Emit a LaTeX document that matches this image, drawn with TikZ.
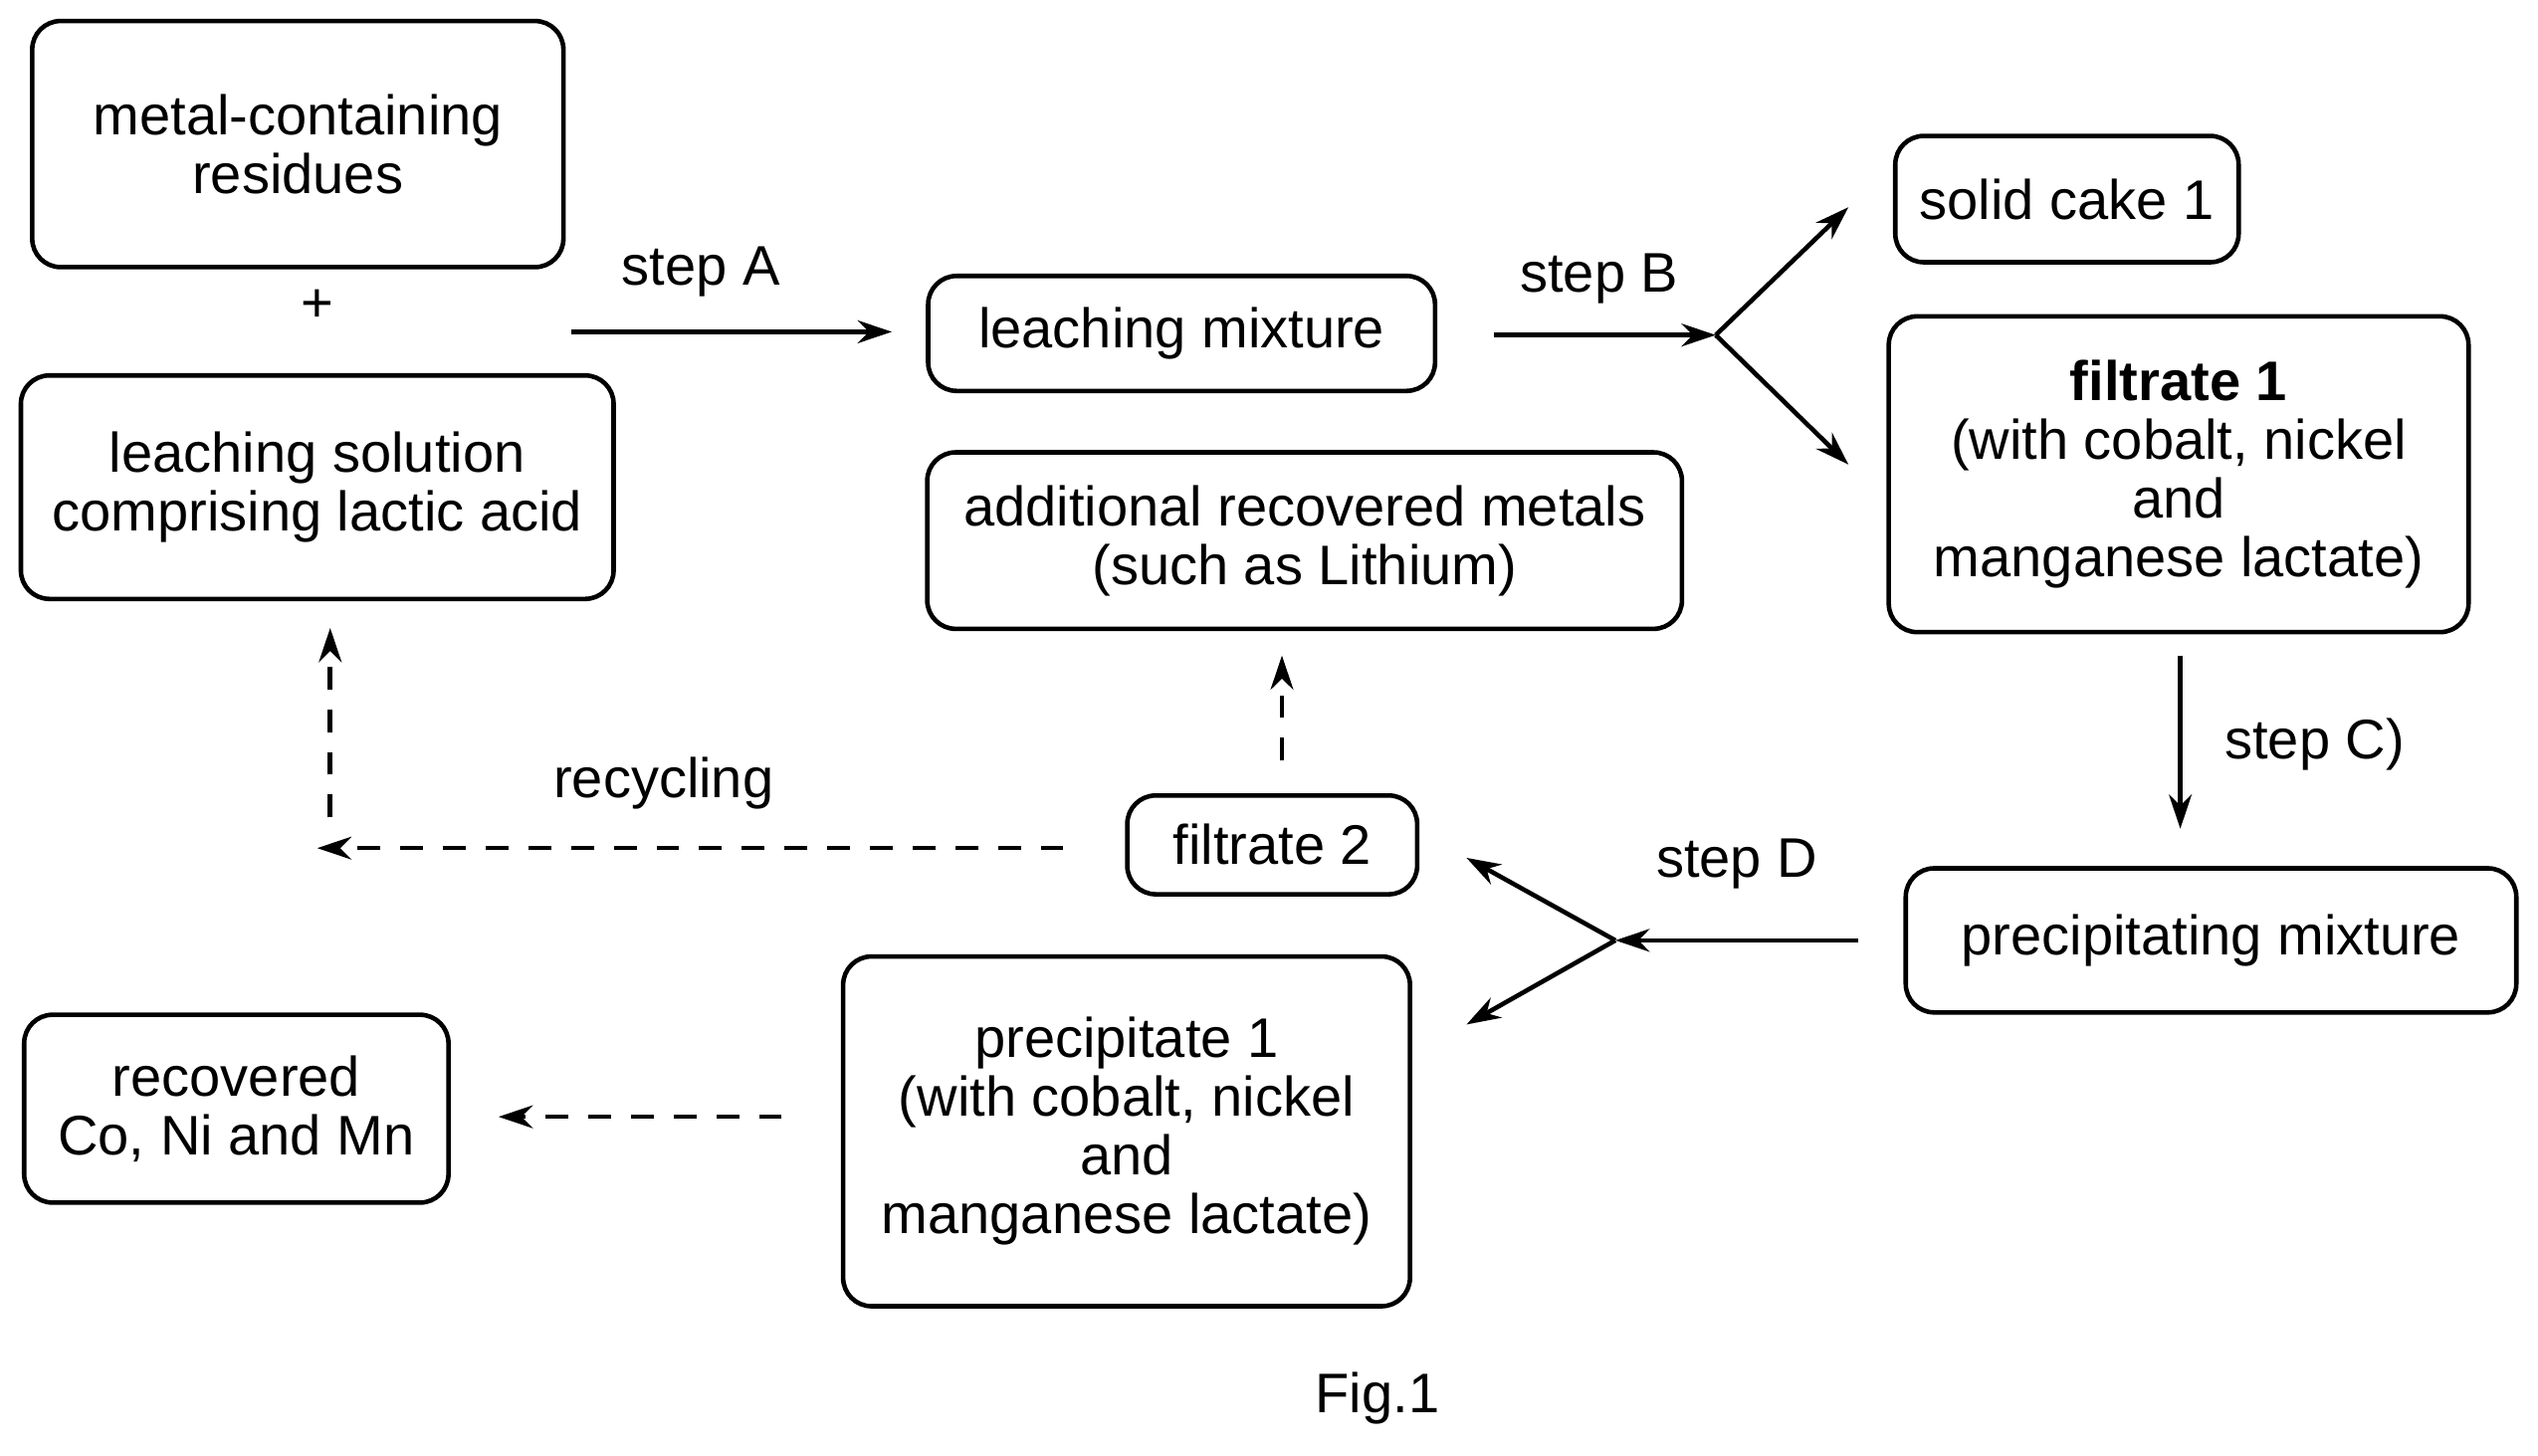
\documentclass[tikz,border=0pt]{standalone}
\usepackage{fontspec}
\setmainfont{Liberation Sans}
\usetikzlibrary{arrows.meta}
\tikzset{
  box/.style={draw, thick, rounded corners=5pt, align=center, inner sep=0pt},
  flow/.style={-{Stealth[length=6pt,width=4pt]}, thick},
  back/.style={-{Stealth[length=6pt,width=4pt]}, thick, dash pattern=on 4pt off 3.5pt},
}
\begin{document}
\begin{tikzpicture}[x=0.01cm, y=-0.01cm, font=\fontsize{9.8}{10.3}\selectfont]
        \useasboundingbox (0,0) rectangle (1568,899);
        % boxes
        \node[box, minimum width=3.28cm, minimum height=1.52cm] (res) at (184,89) {metal-containing\\residues};
        \node (plus) at (196,189) {+};
        \node[box, minimum width=3.66cm, minimum height=1.38cm] (sol) at (196,301) {leaching solution\\comprising lactic acid};
        \node[box, minimum width=3.13cm, minimum height=0.71cm] (mix) at (730,206) {leaching mixture};
        \node[box, minimum width=2.12cm, minimum height=0.78cm] (cake) at (1277,123) {solid cake 1};
        \node[box, minimum width=3.58cm, minimum height=1.95cm] (fil1) at (1346,293) {\textbf{filtrate 1}\\(with cobalt, nickel\\and\\manganese lactate)};
        \node[box, minimum width=3.77cm, minimum height=0.89cm] (pmix) at (1366,581) {precipitating mixture};
        \node[box, minimum width=1.79cm, minimum height=0.61cm] (fil2) at (786,522) {filtrate 2};
        \node[box, minimum width=4.66cm, minimum height=1.09cm] (add) at (806,334) {additional recovered metals\\(such as Lithium)};
        \node[box, minimum width=3.50cm, minimum height=2.16cm] (prec) at (696,699) {precipitate 1\\(with cobalt, nickel\\and\\manganese lactate)};
        \node[box, minimum width=2.62cm, minimum height=1.16cm] (rec) at (146,685) {recovered\\Co, Ni and Mn};
        \node (fig) at (851,864) {Fig.1};
        % helper points
        \coordinate (a0) at (353,205);
        \coordinate (a1) at (551,205);
        \coordinate (b0) at (923,207);
        \coordinate (fb) at (1060,207);
        \coordinate (fb1) at (1142,128);
        \coordinate (fb2) at (1142,287);
        \coordinate (c0) at (1347,405);
        \coordinate (c1) at (1347,512);
        \coordinate (d0) at (1148,581);
        \coordinate (fd) at (998,581);
        \coordinate (fd1) at (906,530);
        \coordinate (fd2) at (906,633);
        \coordinate (l0) at (792,470);
        \coordinate (l1) at (792,405);
        \coordinate (r0) at (657,524);
        \coordinate (r1) at (196,524);
        \coordinate (u0) at (204,505);
        \coordinate (u1) at (204,388);
        \coordinate (p0) at (483,690);
        \coordinate (p1) at (308,690);
        % arrows
        \draw[flow] (a0) -- (a1);
        \node (stA) at (433,168) {step A};
        \draw[flow] (b0) -- (fb);
        \node (stB) at (988,172) {step B};
        \draw[flow] (fb) -- (fb1);
        \draw[flow] (fb) -- (fb2);
        \draw[flow] (c0) -- (c1);
        \node (stC) at (1430,460) {step C)};
        \draw[flow] (d0) -- (fd);
        \node (stD) at (1073,534) {step D};
        \draw[flow] (fd) -- (fd1);
        \draw[flow] (fd) -- (fd2);
        \draw[back] (l0) -- (l1);
        \draw[back] (r0) -- (r1);
        \node (recy) at (410,484) {recycling};
        \draw[back] (u0) -- (u1);
        \draw[back] (p0) -- (p1);
\end{tikzpicture}
\end{document}
